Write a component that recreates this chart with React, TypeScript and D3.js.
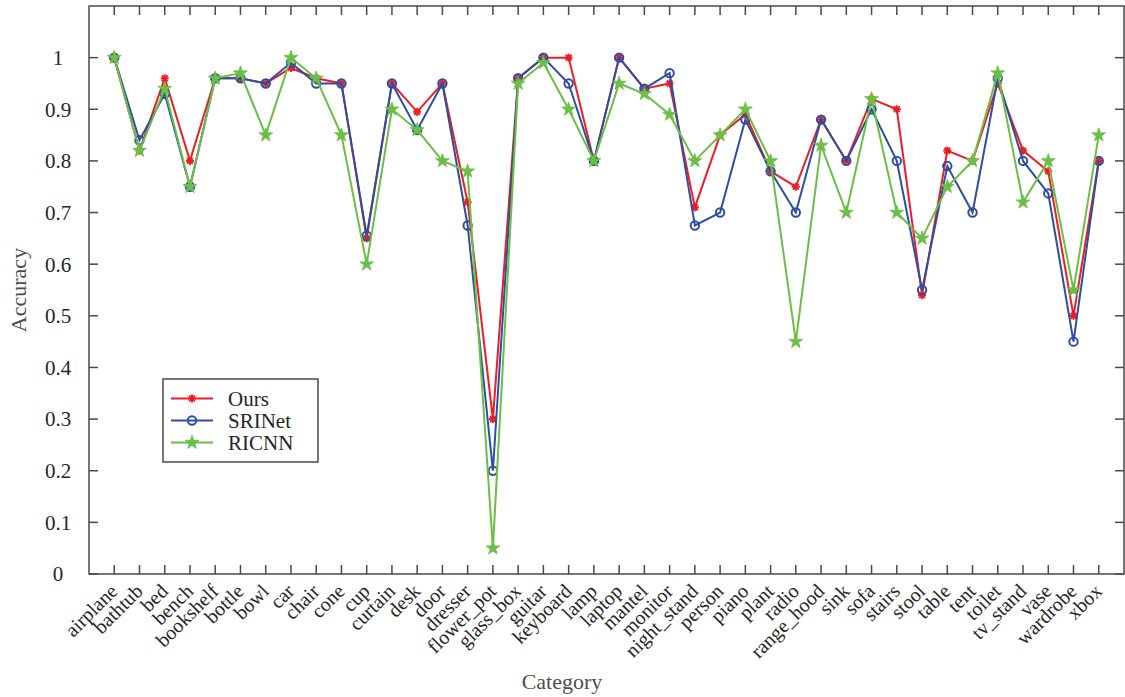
import React, { useEffect, useRef } from 'react';
import * as d3 from 'd3';

const categories = ['airplane', 'bathtub', 'bed', 'bench', 'bookshelf', 'bottle', 'bowl', 'car', 'chair', 'cone',
    'cup', 'curtain', 'desk', 'door', 'dresser', 'flower_pot', 'glass_box', 'guitar', 'keyboard', 'lamp',
    'laptop', 'mantel', 'monitor', 'night_stand', 'person', 'piano', 'plant', 'radio', 'range_hood', 'sink',
    'sofa', 'stairs', 'stool', 'table', 'tent', 'toilet', 'tv_stand', 'vase', 'wardrobe', 'xbox'];

const ours = [1, 0.82, 0.96, 0.80, 0.96, 0.96, 0.95, 0.98, 0.96, 0.95,
    0.65, 0.95, 0.895, 0.95, 0.72, 0.30, 0.96, 1, 1, 0.80,
    1, 0.94, 0.95, 0.71, 0.85, 0.89, 0.78, 0.75, 0.88, 0.80,
    0.92, 0.90, 0.54, 0.82, 0.80, 0.95, 0.82, 0.78, 0.50, 0.80];

const srinet = [1, 0.84, 0.93, 0.75, 0.96, 0.96, 0.95, 0.99, 0.95, 0.95,
    0.655, 0.95, 0.86, 0.95, 0.675, 0.20, 0.96, 1, 0.95, 0.80,
    1, 0.94, 0.97, 0.675, 0.70, 0.88, 0.78, 0.70, 0.88, 0.80,
    0.90, 0.80, 0.55, 0.79, 0.70, 0.96, 0.80, 0.737, 0.45, 0.80];

const ricnn = [1, 0.82, 0.94, 0.75, 0.96, 0.97, 0.85, 1, 0.96, 0.85,
    0.60, 0.90, 0.86, 0.80, 0.78, 0.05, 0.95, 0.99, 0.90, 0.80,
    0.95, 0.93, 0.89, 0.80, 0.85, 0.90, 0.80, 0.45, 0.83, 0.70,
    0.92, 0.70, 0.65, 0.75, 0.80, 0.97, 0.72, 0.80, 0.55, 0.85];

const seriesNames = ['Ours', 'SRINet', 'RICNN'];
const yTicks = [0, 0.1, 0.2, 0.3, 0.4, 0.5, 0.6, 0.7, 0.8, 0.9, 1];

const colors = ['#ee1c25', '#2d4ea2', '#6abf45'];
const axisColor = '#4a4a4a';
const font = '"Liberation Serif", "Times New Roman", serif';

const drawMarker = (g, kind, cx, cy, color) => {
    if (kind === 0) {
        const r = 4;
        [[r, 0], [0, r], [r * 0.72, r * 0.72], [r * 0.72, -r * 0.72]].forEach(([dx, dy]) => {
            g.append('line')
                .attr('x1', cx - dx).attr('y1', cy - dy)
                .attr('x2', cx + dx).attr('y2', cy + dy)
                .attr('stroke', color).attr('stroke-width', 2);
        });
    } else if (kind === 1) {
        g.append('circle')
            .attr('cx', cx).attr('cy', cy).attr('r', 4.2)
            .attr('fill', 'none').attr('stroke', color).attr('stroke-width', 2);
    } else {
        g.append('path')
            .attr('d', d3.symbol().type(d3.symbolStar).size(60)())
            .attr('transform', `translate(${cx},${cy})`)
            .attr('fill', color).attr('stroke', color).attr('stroke-width', 0.8);
    }
};

const createChart = (container) => {
    d3.select(container).selectAll('*').remove();

    const width = 1125, height = 697;
    const left = 89, right = 1124, top = 6, bottom = 574;

    const svg = d3.select(container)
        .attr('width', width)
        .attr('height', height)
        .style('display', 'block')
        .style('font-family', font);

    const x = d3.scaleLinear().domain([0, categories.length + 1]).range([left, right]);
    const y = d3.scaleLinear().domain([0, 1.1]).range([bottom, top]);

    // ticks (inward, all four sides)
    const tl = 9;
    const ticks = svg.append('g').attr('stroke', axisColor).attr('stroke-width', 1.5);
    categories.forEach((c, i) => {
        const xx = x(i + 1);
        ticks.append('line').attr('x1', xx).attr('x2', xx).attr('y1', bottom).attr('y2', bottom - tl);
        ticks.append('line').attr('x1', xx).attr('x2', xx).attr('y1', top).attr('y2', top + tl);
    });
    yTicks.forEach(t => {
        const yy = y(t);
        ticks.append('line').attr('x1', left).attr('x2', left + tl).attr('y1', yy).attr('y2', yy);
        ticks.append('line').attr('x1', right).attr('x2', right - tl).attr('y1', yy).attr('y2', yy);
    });

    // lines + markers
    const data = [ours, srinet, ricnn];
    const line = d3.line().x((d, i) => x(i + 1)).y(d => y(d));
    data.forEach((vals, k) => {
        const g = svg.append('g');
        g.append('path')
            .attr('d', line(vals))
            .attr('fill', 'none')
            .attr('stroke', colors[k])
            .attr('stroke-width', 2);
        vals.forEach((v, i) => drawMarker(g, k, x(i + 1), y(v), colors[k]));
    });

    // box
    svg.append('rect')
        .attr('x', left).attr('y', top)
        .attr('width', right - left).attr('height', bottom - top)
        .attr('fill', 'none').attr('stroke', axisColor).attr('stroke-width', 1.5);

    // y tick labels
    svg.append('g').selectAll('text')
        .data(yTicks)
        .enter().append('text')
        .attr('x', 58)
        .attr('y', d => y(d))
        .attr('dy', '0.35em')
        .attr('text-anchor', 'middle')
        .style('font-size', '21px')
        .style('fill', '#262626')
        .text(d => d3.format('~g')(d));

    // x tick labels (rotated)
    svg.append('g').selectAll('text')
        .data(categories)
        .enter().append('text')
        .attr('transform', (d, i) => `translate(${x(i + 1) - 4},${bottom + 10}) rotate(-45)`)
        .attr('text-anchor', 'end')
        .attr('dy', '0.6em')
        .style('font-size', '20px')
        .style('fill', '#262626')
        .text(d => d);

    // axis titles
    svg.append('text')
        .attr('transform', `translate(26,${(top + bottom) / 2}) rotate(-90)`)
        .attr('text-anchor', 'middle')
        .style('font-size', '22px')
        .style('fill', '#4d4d4d')
        .text('Accuracy');

    svg.append('text')
        .attr('x', 562)
        .attr('y', 689)
        .attr('text-anchor', 'middle')
        .style('font-size', '22px')
        .style('fill', '#4d4d4d')
        .text('Category');

    // legend
    const legend = svg.append('g');
    legend.append('rect')
        .attr('x', 163).attr('y', 379).attr('width', 155).attr('height', 83)
        .attr('fill', 'white').attr('stroke', axisColor).attr('stroke-width', 1.5);
    seriesNames.forEach((name, k) => {
        const ly = 398.5 + k * 22;
        legend.append('line')
            .attr('x1', 171).attr('x2', 213).attr('y1', ly).attr('y2', ly)
            .attr('stroke', colors[k]).attr('stroke-width', 2);
        drawMarker(legend, k, 192, ly, colors[k]);
        legend.append('text')
            .attr('x', 228).attr('y', ly)
            .attr('dy', '0.35em')
            .style('font-size', '21px')
            .style('fill', '#262626')
            .text(name);
    });
};

const App = () => {
    const ref = useRef(null);

    useEffect(() => {
        if (ref.current) {
            createChart(ref.current);
        }
    }, []);

    return (
        <div style={{ position: 'absolute', left: 0, top: 0 }}>
            <svg ref={ref} />
        </div>
    );
};

export default App;
